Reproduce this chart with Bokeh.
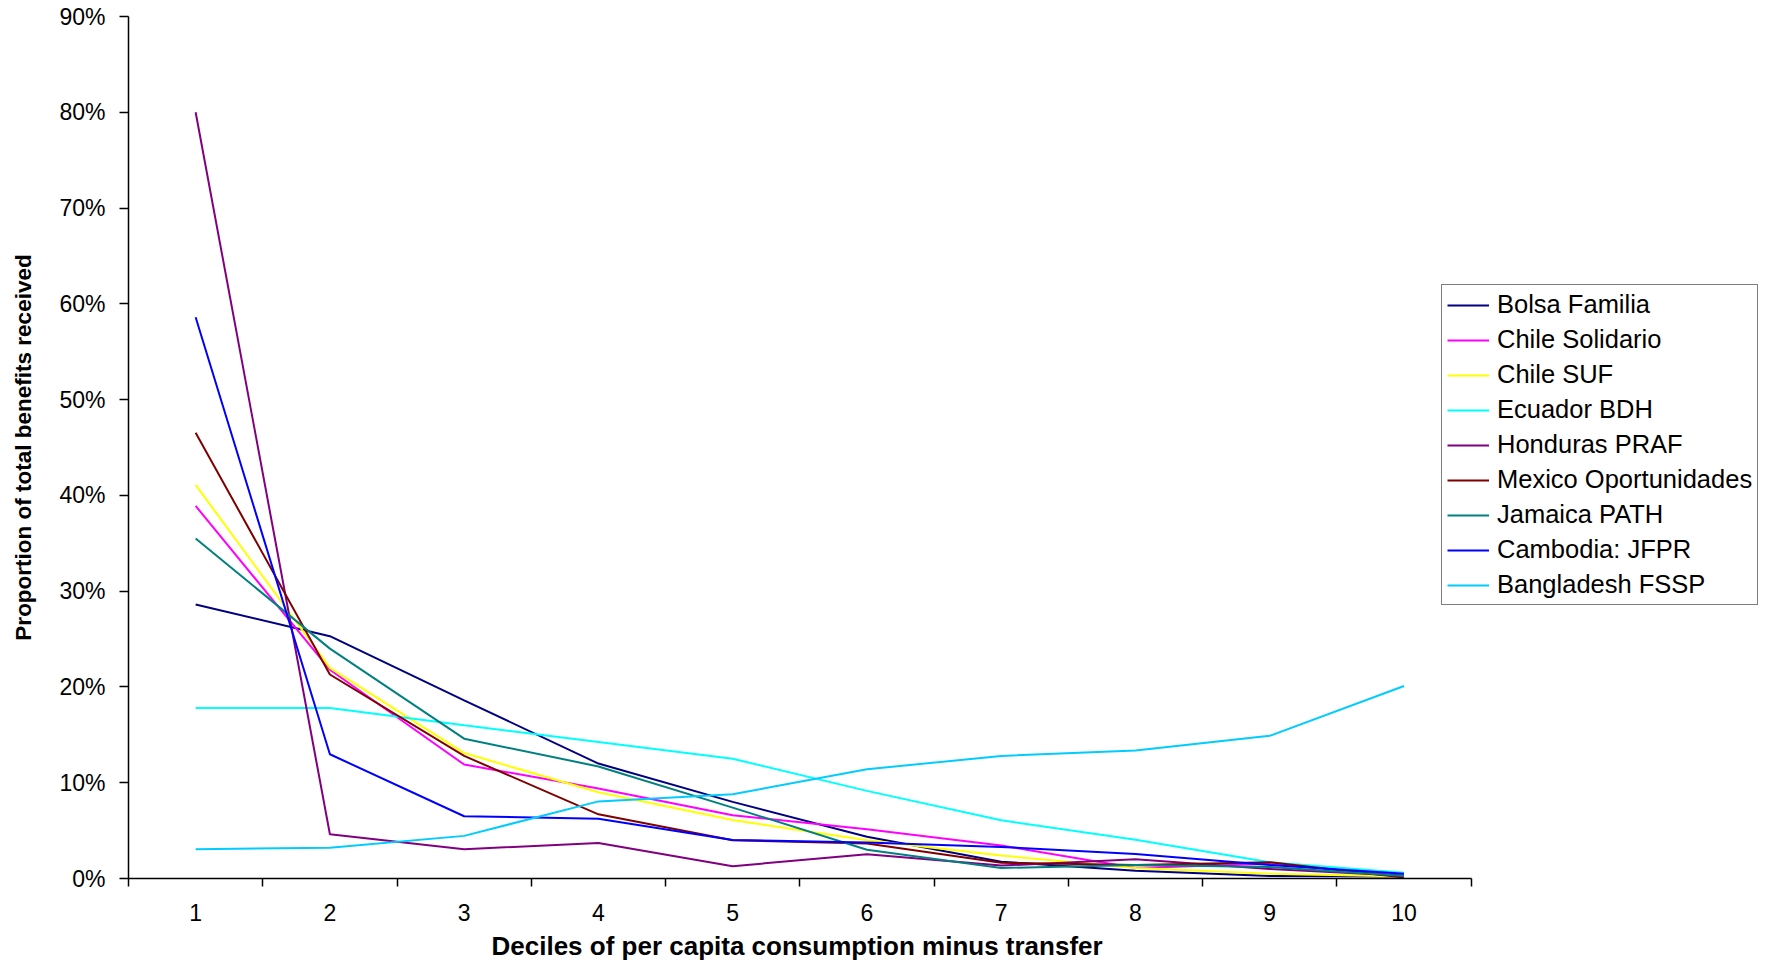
from bokeh.plotting import figure
from bokeh.models import FixedTicker, PrintfTickFormatter, Legend, LegendItem, Title, Range1d
from bokeh.embed import file_html
from bokeh.resources import INLINE

deciles = [1, 2, 3, 4, 5, 6, 7, 8, 9, 10]
x_title = "Deciles of per capita consumption minus transfer"
y_title = "Proportion of total benefits received"

series_names = ["Bolsa Familia", "Chile Solidario", "Chile SUF", "Ecuador BDH", "Honduras PRAF",
                "Mexico Oportunidades", "Jamaica PATH", "Cambodia: JFPR", "Bangladesh FSSP"]
# values in percent of total benefits
bolsa_familia = [28.6, 25.3, 18.6, 12.0, 8.0, 4.35, 1.75, 0.8, 0.25, 0.2]
chile_solidario = [38.9, 21.8, 11.9, 9.4, 6.6, 5.15, 3.45, 1.1, 1.55, 0.3]
chile_suf = [41.1, 22.0, 13.1, 9.0, 6.1, 4.0, 2.4, 1.1, 0.5, 0.2]
ecuador_bdh = [17.8, 17.8, 16.0, 14.25, 12.5, 9.15, 6.08, 4.05, 1.7, 0.6]
honduras_praf = [80.0, 4.62, 3.06, 3.7, 1.28, 2.54, 1.35, 2.0, 1.0, 0.3]
mexico_oportunidades = [46.55, 21.3, 12.8, 6.7, 4.0, 3.65, 1.65, 1.4, 1.7, 0.1]
jamaica_path = [35.5, 24.0, 14.6, 11.7, 7.4, 3.0, 1.1, 1.4, 1.2, 0.25]
cambodia_jfpr = [58.6, 12.97, 6.5, 6.25, 4.03, 3.75, 3.3, 2.55, 1.4, 0.5]
bangladesh_fssp = [3.06, 3.2, 4.45, 8.05, 8.8, 11.4, 12.8, 13.36, 14.9, 20.1]

series_values = [bolsa_familia, chile_solidario, chile_suf, ecuador_bdh, honduras_praf,
                 mexico_oportunidades, jamaica_path, cambodia_jfpr, bangladesh_fssp]
colors = ["#000080", "#FF00FF", "#FFFF00", "#00FFFF", "#800080",
          "#800000", "#008080", "#0000FF", "#00CCFF"]

FONT = "Liberation Sans"

# plot area continues to the right of the axis so the legend can sit there
x_lo, x_hi = deciles[0] - 0.5, deciles[-1] + 0.5
x_view_end = x_hi + 2.237

p = figure(width=1771, height=966, output_backend="svg", toolbar_location=None,
           x_range=Range1d(x_lo, x_view_end), y_range=Range1d(0, 90),
           min_border_left=128, min_border_right=0, min_border_top=16, min_border_bottom=88,
           background_fill_color="white", border_fill_color="white")
p.xgrid.visible = False
p.ygrid.visible = False
p.outline_line_color = None

items = []
for name, vals, col in zip(series_names, series_values, colors):
    r = p.line(deciles, vals, line_color=col, line_width=2)
    items.append(LegendItem(label=name, renderers=[r]))

# x axis: ticks at category boundaries, labels at category centres
xa = p.xaxis[0]
xa.bounds = (x_lo, x_hi)
xa.ticker = FixedTicker(ticks=deciles,
                        minor_ticks=[d - 0.5 for d in deciles] + [x_hi])
xa.major_tick_in = 0
xa.major_tick_out = 0
xa.minor_tick_in = 0
xa.minor_tick_out = 8
xa.minor_tick_line_color = "black"
xa.minor_tick_line_width = 1.5
xa.axis_line_color = "black"
xa.axis_line_width = 1.5
xa.major_label_standoff = 17
xa.major_label_text_font = FONT
xa.major_label_text_font_size = "23px"
xa.major_label_text_color = "black"

ya = p.yaxis[0]
ya.ticker = FixedTicker(ticks=list(range(0, 91, 10)))
ya.formatter = PrintfTickFormatter(format="%d%%")
ya.major_tick_in = 0
ya.major_tick_out = 9
ya.minor_tick_out = 0
ya.minor_tick_in = 0
ya.major_tick_line_color = "black"
ya.major_tick_line_width = 1.5
ya.axis_line_color = "black"
ya.axis_line_width = 1.5
ya.major_label_standoff = 14
ya.major_label_text_font = FONT
ya.major_label_text_font_size = "23px"
ya.major_label_text_color = "black"
ya.axis_label = y_title
ya.axis_label_text_font = FONT
ya.axis_label_text_font_size = "22.5px"
ya.axis_label_text_font_style = "bold"
ya.axis_label_text_color = "black"
ya.axis_label_standoff = 20

xt = Title(text=x_title, align="left", offset=363, text_font=FONT, text_font_size="26px",
           text_font_style="bold", text_color="black", standoff=10)
p.add_layout(xt, "below")

legend = Legend(items=items, location=(1313, 273))
legend.border_line_color = "black"
legend.border_line_width = 1.5
legend.background_fill_color = "white"
legend.background_fill_alpha = 1
legend.label_text_font = FONT
legend.label_text_font_size = "25.5px"
legend.label_text_color = "black"
legend.glyph_width = 42
legend.glyph_height = 28
legend.label_height = 28
legend.spacing = 6
legend.padding = 5
legend.label_standoff = 8
legend.margin = 0
p.add_layout(legend)

open("out.html", "w").write(file_html(p, INLINE))
